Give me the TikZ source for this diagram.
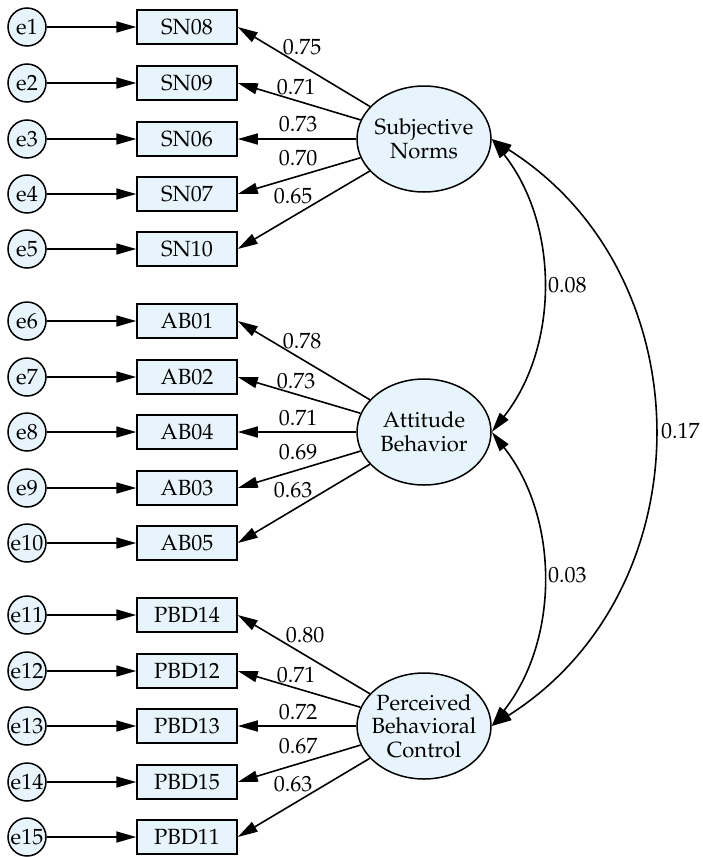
\documentclass[tikz,border=0pt]{standalone}
\usepackage[T1]{fontenc}
\usepackage{mathpazo}
\usetikzlibrary{arrows.meta,shapes.geometric,calc}
\definecolor{nodefill}{RGB}{232,244,252}
\begin{document}
\begin{tikzpicture}[x=1pt,y=1pt,
  every node/.style={font=\fontsize{22}{23.5}\selectfont},
  obs/.style={draw, fill=nodefill, line width=1.5pt, minimum width=100pt, minimum height=34pt, inner sep=0pt},
  err/.style={draw, circle, fill=nodefill, line width=1.5pt, minimum size=38pt, inner sep=0pt},
  lat/.style={draw, ellipse, fill=nodefill, line width=1.5pt, minimum width=134pt, minimum height=106pt, inner sep=0pt},
  tip/.tip={Triangle[length=20pt,width=11pt]},
  arr/.style={line width=1.6pt, -tip},
  cov/.style={line width=1.6pt, tip-tip},
  lab/.style={inner sep=0pt}]
\useasboundingbox (0,0) rectangle (702,-857);

% latent variables
\node[lat, label={[align=center]center:Subjective\\Norms}] (SN) at (424,-139) {};
\node[lat, label={[align=center]center:Attitude\\Behavior}] (AB) at (424,-432) {};
\node[lat, label={[align=center]center:Perceived\\Behavioral\\Control}] (PBC) at (424,-726) {};

% indicators and errors
\foreach \b/\e/\y/\l in {SN08/e1/27/SN, SN09/e2/83/SN, SN06/e3/139/SN, SN07/e4/194/SN, SN10/e5/249/SN,
  AB01/e6/321/AB, AB02/e7/377/AB, AB04/e8/432/AB, AB03/e9/488/AB, AB05/e10/543/AB,
  PBD14/e11/615/PBC, PBD12/e12/671/PBC, PBD13/e13/726/PBC, PBD15/e14/782/PBC, PBD11/e15/837/PBC}{
  \node[obs] (\b) at (187,-\y) {\b};
  \node[err] (\e) at (27,-\y) {\e};
  \draw[arr] (\e) -- (\b);
  \draw[arr] (\l) -- (\b.east);
}

% loadings
\foreach \v/\x/\y in {0.75/302/47, 0.71/296/87, 0.73/298/124, 0.70/298/158, 0.65/293/196,
  0.78/302/341, 0.73/296/381, 0.71/298/418, 0.69/298/452, 0.63/293/490,
  0.80/305/635, 0.71/296/675, 0.72/298/712, 0.67/298/746, 0.63/293/784}{
  \node[lab] (L\x\y) at (\x,-\y) {\v};
}

% covariances
\draw[cov] (SN.east) to[out=-51.7, in=51.7, looseness=0.955] (AB.east);
\draw[cov] (AB.east) to[out=-51.7, in=51.7, looseness=0.955] (PBC.east);
\draw[cov] (SN.east) to[out=-32.3, in=32.3, looseness=1.11] (PBC.east);
\node[lab, anchor=west] (c1) at (548,-285) {0.08};
\node[lab, anchor=west] (c2) at (548,-575) {0.03};
\node[lab, anchor=west] (c3) at (661,-431) {0.17};
\end{tikzpicture}
\end{document}
